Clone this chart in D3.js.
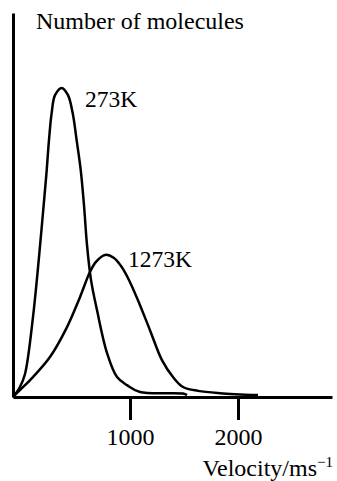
<!DOCTYPE html>
<html>
<head>
<meta charset="utf-8">
<script src="https://cdn.jsdelivr.net/npm/d3@7"></script>
<style>
  html, body { margin: 0; padding: 0; background: #fff; }
  svg { display: block; }
  text { font-family: "Liberation Serif", "Times New Roman", serif; fill: #000; }
</style>
</head>
<body>
<svg id="chart" width="337" height="481"></svg>
<script>
// Velocity (m/s) and relative number of molecules (arbitrary units)
const v273 = [-83, -19, 28, 102, 197, 229, 250, 275, 306, 368, 426, 469, 506, 544, 574, 602, 639, 694, 787, 880, 972, 1093, 1491, 1528];
const n273 = [0, 2.6, 6, 20.8, 48.7, 59.1, 66.9, 74, 78.6, 80.5, 78.6, 74, 66.9, 59.1, 50, 39.6, 30.5, 22.7, 11.5, 5.2, 3.1, 1.3, 0.9, 0.5];
const v1273 = [-83, -19, 102, 259, 417, 537, 630, 685, 769, 852, 917, 981, 1065, 1185, 1296, 1398, 1491, 1630, 1833, 2185];
const n1273 = [0, 1.8, 5.2, 10.4, 18.2, 26, 32.6, 35.2, 37, 36.2, 34.1, 31, 25.8, 17.4, 9.6, 5.2, 2.6, 1.6, 1.0, 0.5];
const xTicks = [1000, 2000];
const seriesLabels = ["273K", "1273K"];
const yTitle = "Number of molecules";
const xTitle = "Velocity/ms";

const svg = d3.select("#chart");
const x = d3.scaleLinear().domain([-83, 2870]).range([13, 332]);
const y = d3.scaleLinear().domain([0, 100]).range([397, 13]);
const FONT = '"Liberation Serif", "Times New Roman", serif';

// curves
const line = d3.line()
  .x(d => x(d[0]))
  .y(d => y(d[1]))
  .curve(d3.curveCatmullRom.alpha(0.5));

const s273 = v273.map((v, i) => [v, n273[i]]);
const s1273 = v1273.map((v, i) => [v, n1273[i]]);

[s273, s1273].forEach(s => {
  svg.append("path")
    .datum(s)
    .attr("d", line)
    .attr("fill", "none")
    .attr("stroke", "#000")
    .attr("stroke-width", 2.5)
    .attr("stroke-linejoin", "round");
});

// x axis
const xAxis = svg.append("g")
  .attr("transform", `translate(0,${y(0)})`)
  .call(d3.axisBottom(x).tickValues(xTicks).tickSize(23).tickSizeOuter(0).tickPadding(8).tickFormat(d3.format("d")));
xAxis.select(".domain").attr("stroke", "#000").attr("stroke-width", 3);
xAxis.selectAll(".tick line").attr("stroke", "#000").attr("stroke-width", 3);
xAxis.selectAll(".tick text")
  .style("font-family", FONT)
  .attr("font-size", 24).attr("fill", "#000");

// y axis
const yAxis = svg.append("g")
  .attr("transform", `translate(${x(-83)},0)`)
  .call(d3.axisLeft(y).tickValues([]).tickSizeOuter(0));
yAxis.select(".domain").attr("stroke", "#000").attr("stroke-width", 3);

// labels
svg.append("text").attr("x", 36).attr("y", 29).attr("font-size", 24).text(yTitle);
svg.append("text").attr("x", 85).attr("y", 107).attr("font-size", 23.5).text(seriesLabels[0]);
svg.append("text").attr("x", 128).attr("y", 267).attr("font-size", 23.5).text(seriesLabels[1]);

const xt = svg.append("text").attr("x", 333).attr("y", 476).attr("font-size", 24).attr("text-anchor", "end");
xt.append("tspan").text(xTitle);
xt.append("tspan").attr("font-size", 15).attr("dy", -9).text("\u22121");
</script>
</body>
</html>
